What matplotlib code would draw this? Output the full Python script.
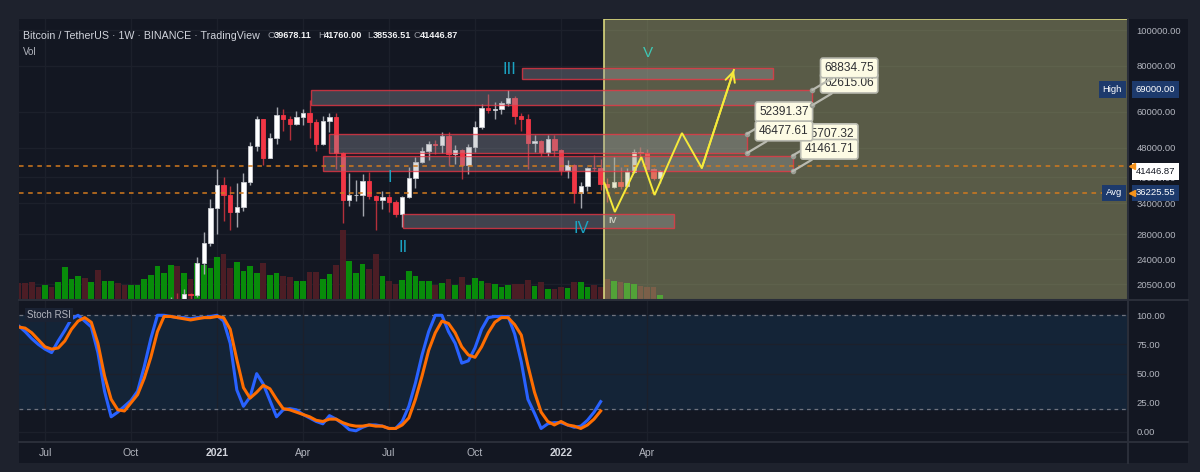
import numpy as np
import matplotlib
matplotlib.use('Agg')
import matplotlib.pyplot as plt
import matplotlib.dates as mdates
import matplotlib.transforms as mtrans
from matplotlib.patches import Rectangle
from matplotlib.lines import Line2D

plt.rcParams['font.family'] = ['Liberation Sans', 'DejaVu Sans']

# weekly BTCUSDT bars (Monday open), 2020-06-08 .. 2022-04-18
weeks = np.arange(np.datetime64('2020-06-08'), np.datetime64('2022-04-25'), np.timedelta64(7, 'D'))
opens = [9660, 9340, 9290, 9010, 8990, 9250, 9160, 9930, 11200, 11580,
         11770, 11650, 11960, 10250, 10330, 10920, 10720, 10670, 11370, 11500,
         13030, 13800, 15480, 15960, 18410, 18180, 19360, 19170, 23480, 26450,
         33000, 38150, 35830, 32260, 33090, 38800, 48580, 57490, 45160, 50970,
         59000, 57350, 55800, 58200, 59770, 56200, 49000, 56600, 58240, 46430,
         34700, 35680, 35800, 39100, 35600, 34700, 35290, 34250, 31780, 35400,
         39850, 43800, 47000, 49250, 48900, 51750, 46070, 47260, 43170, 48200,
         54660, 61530, 60860, 61300, 63270, 65470, 58620, 57270, 49400, 50100,
         46700, 50800, 47300, 41860, 43100, 36280, 37900, 42400, 42200, 38400,
         37700, 38800, 37780, 41260, 46830, 46400, 42150, 39678.11]
highs = [9990, 9600, 9800, 9380, 9450, 9350, 9980, 12120, 11900, 12090,
         12480, 11990, 12470, 10620, 11180, 10990, 10960, 11490, 11740, 13350,
         14100, 15960, 16480, 18960, 19480, 19920, 19420, 24300, 28420, 34800,
         41950, 40100, 37850, 38530, 40950, 49700, 58350, 57550, 52640, 61800,
         61180, 58420, 60200, 61200, 64850, 57500, 58450, 59700, 59600, 46700,
         40900, 39300, 40700, 41300, 35750, 36700, 35950, 34680, 35450, 42600,
         45200, 48100, 50000, 50500, 52900, 52920, 48840, 47500, 49200, 56600,
         62900, 67000, 63730, 64270, 69000, 66400, 59500, 59170, 51950, 50300,
         52090, 52000, 47570, 44500, 43500, 38900, 42600, 45850, 44750, 39850,
         45400, 42600, 42350, 47700, 48200, 47500, 42400, 41760.00]
lows = [9240, 9200, 8830, 8940, 8900, 9050, 9100, 9900, 10950, 11150,
        11350, 11180, 9810, 9880, 10200, 10140, 10370, 10530, 11210, 11400,
        12980, 13520, 14900, 15780, 16200, 18110, 17600, 19000, 21800, 26100,
        28130, 30420, 28850, 29240, 32300, 37990, 47000, 43000, 45000, 49300,
        53270, 50400, 55500, 55500, 51000, 47000, 48750, 52900, 42000, 30000,
        33400, 34400, 31300, 34800, 28800, 32800, 32100, 31100, 29280, 35200,
        37300, 43700, 44500, 46300, 46500, 42830, 43370, 39600, 40800, 46900,
        53900, 59500, 57300, 59400, 62300, 55600, 53250, 42000, 46750, 45600,
        45500, 45670, 40500, 39650, 34000, 32900, 36600, 41650, 36800, 34300,
        37450, 37100, 37550, 40900, 45200, 42100, 39200, 38536.51]
closes = [9340, 9290, 9010, 8990, 9250, 9160, 9930, 11200, 11580, 11770,
          11650, 11960, 10250, 10330, 10920, 10720, 10670, 11370, 11500, 13030,
          13800, 15480, 15960, 18410, 18180, 19360, 19170, 23480, 26450, 33000,
          38150, 35830, 32260, 33090, 38800, 48580, 57490, 45160, 50970, 59000,
          57350, 55800, 58200, 59770, 56200, 49000, 56600, 58240, 46430, 34700,
          35680, 35800, 39100, 35600, 34700, 35290, 34250, 31780, 35400, 39850,
          43800, 47000, 49250, 48900, 51750, 46070, 47260, 43170, 48200, 54660,
          61530, 60860, 61300, 63270, 65470, 58620, 57270, 49400, 50100, 46700,
          50800, 47300, 41860, 43100, 36280, 37900, 42400, 42200, 38400, 37700,
          38800, 37780, 41260, 46830, 46400, 42150, 39680, 41446.87]
# weekly volume, thousand BTC
volume = [170, 170, 180, 130, 150, 130, 180, 330, 210, 240,
          220, 180, 300, 190, 190, 170, 150, 150, 150, 210,
          250, 340, 270, 350, 340, 273, 210, 373, 350, 317,
          430, 457, 323, 377, 293, 337, 273, 373, 250, 267,
          240, 227, 193, 193, 280, 283, 207, 257, 350, 700,
          393, 273, 357, 310, 460, 240, 187, 160, 200, 290,
          237, 193, 190, 153, 167, 207, 147, 227, 147, 220,
          187, 173, 160, 133, 153, 160, 160, 200, 140, 180,
          107, 113, 133, 120, 180, 180, 133, 153, 127, 210,
          193, 183, 167, 160, 140, 133, 130, 50]
# Stoch RSI (up to 2022-02-14)
stoch_k = [91, 86, 80, 75, 71, 68, 78, 87, 97, 100,
           95, 90, 68, 35, 13, 17, 22, 27, 35, 56,
           80, 100, 100, 99, 98, 98, 97, 98, 98, 99,
           100, 95, 76, 36, 22, 30, 50, 41, 27, 13,
           19, 20, 19, 15, 12, 9, 7, 14, 11, 7,
           2, 1, 4, 6, 6, 5, 3, 3, 9, 22,
           42, 66, 86, 100, 100, 86, 76, 59, 61, 72,
           88, 98, 99, 99, 99, 84, 60, 28, 16, 3,
           7, 8, 8, 6, 4, 5, 10, 17, 26]
stoch_d = [90, 89, 85, 79, 73, 71, 72, 78, 88, 95,
           98, 94, 76, 48, 28, 19, 18, 25, 32, 46,
           64, 86, 99, 99, 98, 97, 96, 97, 98, 98,
           99, 98, 88, 62, 38, 29, 34, 40, 37, 28,
           20, 19, 17, 15, 13, 10, 9, 11, 11, 8,
           6, 5, 5, 6, 5, 5, 3, 3, 6, 12,
           28, 48, 70, 85, 95, 93, 85, 73, 66, 64,
           73, 85, 94, 98, 98, 92, 83, 57, 34, 17,
           9, 6, 9, 6, 5, 3, 6, 11, 18]

# zones: start, end, low, high
zone_start = ['2021-04-13', '2021-05-03', '2021-04-26', '2021-07-20', '2021-11-23']
zone_end = ['2022-09-26', '2022-07-19', '2022-09-05', '2022-05-03', '2022-08-15']
zone_low = [62615.06, 46477.61, 41461.71, 29120, 73700]
zone_high = [68834.75, 52391.37, 45707.32, 31770, 78920]

# price callouts (value, zone index)
callout_vals = [45707.32, 41461.71, 52391.37, 46477.61, 62615.06, 68834.75]
callout_zone = [2, 2, 1, 1, 0, 0]

# projected path
path_dates = ['2022-02-18', '2022-03-01', '2022-03-29', '2022-04-12', '2022-05-11', '2022-06-01', '2022-07-05']
path_prices = [38540, 32170, 45320, 35770, 52630, 42320, 77950]

# wave labels
wave_text = ['I', 'II', 'III', 'IV', 'V']
wave_dates = ['2021-07-06', '2021-07-20', '2021-11-09', '2022-01-25', '2022-04-05']
wave_prices = [39770, 25860, 77950, 29120, 86900]

proj_start = '2022-02-18'
avg_close = 36225.55
line_level = 42850
hi_price = 69000.00
last_price = 41446.87

price_ticks = [20500, 24000, 28000, 34000, 40000, 48000, 60000, 80000, 100000]
rsi_ticks = [0, 25, 50, 75, 100]
time_ticks = ['2020-07-06', '2020-10-05', '2021-01-04', '2021-04-05', '2021-07-05',
              '2021-10-04', '2022-01-03', '2022-04-04']
time_labels = ['Jul', 'Oct', '2021', 'Apr', 'Jul', 'Oct', '2022', 'Apr']

W, H = 1200, 472
BG = '#131722'
GRID = '#1c202b'
TXT = '#b2b5be'


def rect(x0, y0, x1, y1):
    return [x0 / W, 1 - y1 / H, (x1 - x0) / W, (y1 - y0) / H]


def d2n(s):
    return mdates.date2num(np.datetime64(s))


fig = plt.figure(figsize=(12, 4.72), dpi=100, facecolor='#1e222d')
fig.patches.append(Rectangle((19 / W, 1 - 463 / H), (1188 - 19) / W, (463 - 19) / H,
                             transform=fig.transFigure, facecolor=BG, zorder=-10))

xd = mdates.date2num(weeks)
xlim = (d2n('2020-06-08') + 0.5, d2n('2023-08-26'))

ax_vol = fig.add_axes(rect(19, 19, 1128, 300), label='vol')
ax = fig.add_axes(rect(19, 19, 1128, 300), label='price')
axr = fig.add_axes(rect(19, 300, 1128, 442), label='rsi')
for a in (ax_vol, ax, axr):
    a.patch.set_visible(False)
    for s in a.spines.values():
        s.set_visible(False)
    a.set_xlim(*xlim)
ax_vol.set_ylim(0, 2810)
ax_vol.set_xticks([])
ax_vol.set_yticks([])
ax.set_yscale('log')
ax.set_ylim(18594, 107100)
axr.set_ylim(-8.6, 113.1)

# grid
tt = [d2n(t) for t in time_ticks]
hb = mtrans.blended_transform_factory(ax_vol.transAxes, ax.transData)
for t in tt:
    ax_vol.axvline(t, color=GRID, lw=0.9, zorder=0)
    axr.axvline(t, color=GRID, lw=0.9, zorder=0.5)
for p in price_ticks:
    ax_vol.plot([0, 1], [p, p], transform=hb, color=GRID, lw=0.9, zorder=0)

# volume
up = np.array(closes) >= np.array(opens)
ax_vol.bar(xd, volume, width=6, color=np.where(up, '#088c0a', '#4b1d25'), zorder=2)

# candles
o = np.array(opens); c = np.array(closes)
lo_b = np.minimum(o, c); hi_b = np.maximum(o, c)
ax.vlines(xd, lows, highs, colors=np.where(up, '#a3a6ae', '#b3303b'), lw=1, zorder=2)
ax.bar(xd, hi_b - lo_b, bottom=lo_b, width=4.6, color=np.where(up, '#ffffff', '#f23645'),
       edgecolor=np.where(up, '#c9cbd1', '#f23645'), lw=0.6, zorder=3)

# small wave label under the projection shading
ax.text(d2n('2022-02-27'), 30600, 'IV', color='#ffffff', fontsize=6.5, fontweight='bold',
        ha='center', va='center', zorder=4)

# projection shading
ps = d2n(proj_start)
ax.add_patch(Rectangle((ps, 0), xlim[1] + 20 - ps, 1,
                       transform=mtrans.blended_transform_factory(ax.transData, ax.transAxes),
                       facecolor=(0.784, 0.784, 0.51, 0.39), edgecolor='#d9d77e', lw=1.2, zorder=5))

# zones
for s, e, lo, hi in zip(zone_start, zone_end, zone_low, zone_high):
    ax.add_patch(Rectangle((d2n(s), lo), d2n(e) - d2n(s), hi - lo,
                           facecolor=(0.584, 0.596, 0.631, 0.35),
                           edgecolor=(0.95, 0.21, 0.27, 0.75), lw=1, zorder=6))

# dashed orange lines
for lv in (line_level, avg_close):
    ax.axhline(lv, color='#d27a1e', lw=1.1, ls=(0, (3, 3)), zorder=6.5)

# projected path
pdn = [d2n(d) for d in path_dates]
ax.plot(pdn, path_prices, color='#f5ea3a', lw=1.4, zorder=7, solid_joinstyle='miter')
ax.annotate('', xy=(pdn[-1], path_prices[-1]), xytext=(pdn[-2], path_prices[-2]),
            arrowprops=dict(arrowstyle='->,head_length=0.7,head_width=0.35', color='#f5ea3a',
                            lw=1.4, shrinkA=0, shrinkB=0), zorder=7)

# wave labels
wave_col = ['#1ba3c2', '#1ba3c2', '#1ba3c2', '#1ba3c2', '#3ec7b4']
wave_fs = [12, 12, 12, 12, 11]
for t, d, p, col, fs in zip(wave_text, wave_dates, wave_prices, wave_col, wave_fs):
    ax.text(d2n(d), p, t, color=col, fontsize=fs, ha='center', va='center', zorder=7)

# callouts
for i, (v, zi) in enumerate(zip(callout_vals, callout_zone)):
    x = d2n(zone_end[zi])
    ax.plot([x], [v], 'o', ms=3, color='#9a9d94', zorder=8 + i * 0.1)
    ax.annotate(f'{v:.2f}', xy=(x, v), xytext=(12, 16), textcoords='offset pixels',
                ha='left', va='bottom', fontsize=8.6, color='#2f3033', zorder=8 + i * 0.1,
                bbox=dict(boxstyle='round,pad=0.32,rounding_size=0.2', fc='#fdfbe4', ec='#b9bab0', lw=1.2),
                arrowprops=dict(arrowstyle='-', color='#b9bab0', lw=1.6, shrinkA=0, shrinkB=0))

# price axis
ax.set_xticks([])
ax.yaxis.set_minor_locator(matplotlib.ticker.NullLocator())
ax.set_yticks(price_ticks)
ax.set_yticklabels([f'{p:.2f}' for p in price_ticks])
ax.tick_params(axis='y', which='both', length=0, pad=6, labelsize=6.8, labelcolor=TXT,
               left=False, labelleft=False, right=True, labelright=True)

tr = mtrans.blended_transform_factory(ax.transAxes, ax.transData)
lab = dict(xycoords=tr, textcoords='offset pixels', va='center', fontsize=6.8,
           annotation_clip=False, zorder=20)
ax.annotate(f'{hi_price:.2f}', xy=(1, hi_price), xytext=(8, 0), ha='left', color='white',
            bbox=dict(boxstyle='square,pad=0.4', fc='#1d3a6c', ec='none'), **lab)
ax.annotate('High', xy=(1, hi_price), xytext=(-6, 0), ha='right', color='white',
            bbox=dict(boxstyle='square,pad=0.4', fc='#1d3a6c', ec='none'), **lab)
ax.annotate(f'{avg_close:.2f}', xy=(1, avg_close), xytext=(8, 0), ha='left', color='white',
            bbox=dict(boxstyle='square,pad=0.4', fc='#1d3a6c', ec='none'), **lab)
ax.annotate('Avg', xy=(1, avg_close), xytext=(-6, 0), ha='right', color='white',
            bbox=dict(boxstyle='square,pad=0.4', fc='#1d3a6c', ec='none'), **lab)
ax.annotate(f'{last_price:.2f}', xy=(1, last_price), xytext=(8, 0), ha='left', color='#131722',
            bbox=dict(boxstyle='square,pad=0.4', fc='#ffffff', ec='none'), **lab)
for lv in (line_level, avg_close):
    ax.plot([1.0036], [lv], marker='<', ms=5, color='#f7931a', transform=tr, clip_on=False, zorder=21)

# stoch rsi pane
axr.axhspan(20, 100, color='#142437', zorder=0)
for lv in (75, 50, 0):
    axr.axhline(lv, color=GRID, lw=0.9, zorder=0.6)
for lv in (100, 20):
    axr.axhline(lv, color='#6f737e', lw=0.9, ls=(0, (3, 3)), zorder=1)
xr = xd[:len(stoch_k)]
axr.plot(xr, stoch_k, color='#2962ff', lw=2.2, zorder=3)
axr.plot(xr, stoch_d, color='#ff6d00', lw=2.2, zorder=4)
axr.set_yticks(rsi_ticks)
axr.set_yticklabels([f'{v:.2f}' for v in rsi_ticks])
axr.set_xticks(tt)
axr.set_xticklabels(time_labels)
axr.tick_params(axis='y', length=0, pad=6, labelsize=6.8, labelcolor=TXT,
                left=False, labelleft=False, right=True, labelright=True)
axr.tick_params(axis='x', length=0, pad=4, labelsize=7.5, labelcolor=TXT)
for t in axr.get_xticklabels():
    if t.get_text().isdigit():
        t.set_fontweight('bold')
        t.set_color('#d1d4dc')

# separators
for (x0, y0, x1, y1) in [(19, 300, 1188, 300), (19, 442, 1188, 442), (1128, 19, 1128, 463)]:
    fig.add_artist(Line2D([x0 / W, x1 / W], [1 - y0 / H, 1 - y1 / H], color='#2a2e39', lw=1.5))

# header
fig.text(23 / W, 1 - 36 / H, 'Bitcoin / TetherUS · 1W · BINANCE · TradingView',
         color='#d1d4dc', fontsize=7.7, va='center')
for xl, letter, val in [(268, 'O', '39678.11'), (318, 'H', '41760.00'),
                        (367, 'L', '38536.51'), (414, 'C', '41446.87')]:
    fig.text(xl / W, 1 - 36 / H, letter, color='#9598a1', fontsize=6.8, va='center')
    fig.text((xl + 6) / W, 1 - 36 / H, val, color='#f0f1f3', fontsize=6.6,
             fontweight='bold', va='center')
fig.text(23 / W, 1 - 52 / H, 'Vol', color=TXT, fontsize=7, va='center')
fig.text(27 / W, 1 - 315 / H, 'Stoch RSI', color=TXT, fontsize=7, va='center',
         bbox=dict(boxstyle='square,pad=0.25', fc='#1a2233', ec='none'))

fig.savefig('out.png', dpi=100, facecolor=fig.get_facecolor())
